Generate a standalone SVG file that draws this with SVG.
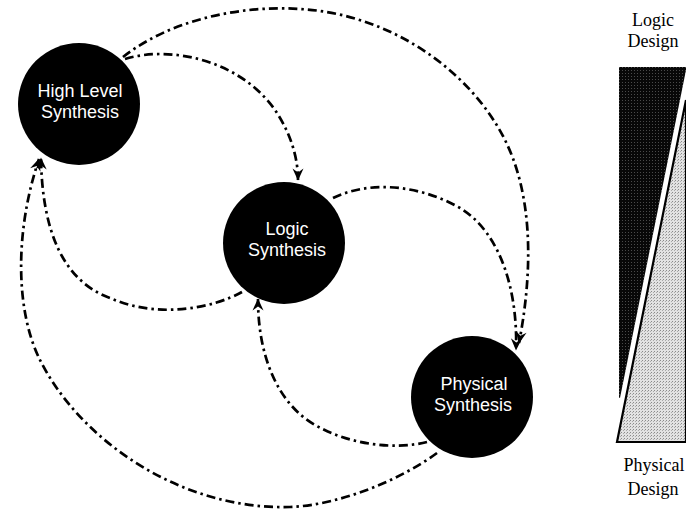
<svg xmlns="http://www.w3.org/2000/svg" width="686" height="512" viewBox="0 0 686 512">
  <style>
    .node { fill: #000; }
    .label { fill: #fff; font-family: "Liberation Sans", Arial, sans-serif; font-size: 18px; text-anchor: middle; }
    .flow { fill: none; stroke: #000; stroke-width: 2.7; stroke-dasharray: 9 4 2.5 4; }
    .side { fill: #000; font-family: "Liberation Serif", "Times New Roman", serif; font-size: 18px; text-anchor: middle; }
  </style>
  <defs>
    <marker id="arrow" markerUnits="userSpaceOnUse" viewBox="0 0 12 12" markerWidth="13" markerHeight="12" refX="11.5" refY="6" orient="auto">
      <path d="M0,0.5 L12,6 L0,11.5 L4,6 Z" fill="#000"/>
    </marker>
    <!-- stippled fills for the design-share bar -->
    <pattern id="darkStipple" width="3" height="3" patternUnits="userSpaceOnUse">
      <rect width="3" height="3" fill="#080808"/>
      <rect x="1" y="1" width="1" height="1" fill="#4a4a4a"/>
    </pattern>
    <pattern id="lightStipple" width="3" height="3" patternUnits="userSpaceOnUse">
      <rect width="3" height="3" fill="#e2e2e2"/>
      <rect x="0" y="0" width="1" height="1" fill="#8a8a8a"/>
      <rect x="2" y="1" width="1" height="1" fill="#aaaaaa"/>
    </pattern>
  </defs>

  <rect width="686" height="512" fill="#fff"/>

  <!-- connectors -->
  <g id="connectors">
    <!-- High Level -> Physical (outer) -->
    <path class="flow" d="M123,57 C170,20 240,5 300,9 C390,14 470,70 505,140 C530,190 535,260 519,343" marker-end="url(#arrow)"/>
    <!-- High Level -> Logic -->
    <path class="flow" d="M125,59 C170,45 240,60 275,110 C292,135 298,160 298,180" marker-end="url(#arrow)"/>
    <!-- Logic -> Physical -->
    <path class="flow" d="M333,198 C370,180 420,185 460,208 C500,232 518,290 516,350" marker-end="url(#arrow)"/>
    <!-- Logic -> High Level -->
    <path class="flow" d="M242,292 C215,307 160,320 110,298 C60,280 42,225 41,158" marker-end="url(#arrow)"/>
    <!-- Physical -> Logic -->
    <path class="flow" d="M427,442 C395,450 350,445 315,425 C280,405 258,360 258,299" marker-end="url(#arrow)"/>
    <!-- Physical -> High Level (outer) -->
    <path class="flow" d="M437,453 C400,480 340,505 290,507 C180,510 80,440 40,360 C15,310 15,230 39,159" marker-end="url(#arrow)"/>
  </g>

  <!-- nodes -->
  <g id="high-level-synthesis">
    <circle class="node" cx="79" cy="104" r="61"/>
    <text class="label" x="80" y="97">High Level</text>
    <text class="label" x="80" y="118">Synthesis</text>
  </g>
  <g id="logic-synthesis">
    <circle class="node" cx="284" cy="243" r="61"/>
    <text class="label" x="287" y="235">Logic</text>
    <text class="label" x="287" y="256">Synthesis</text>
  </g>
  <g id="physical-synthesis">
    <circle class="node" cx="472" cy="397" r="61"/>
    <text class="label" x="474" y="390">Physical</text>
    <text class="label" x="473" y="411">Synthesis</text>
  </g>

  <!-- design-share bar -->
  <g id="design-bar">
    <polygon points="619,67 686,67 686,70 620,398 619,398" fill="url(#darkStipple)"/>
    <polygon points="686,100 686,442 617,442" fill="url(#lightStipple)" stroke="#000" stroke-width="2.2" stroke-linejoin="miter"/>
    <text class="side" x="653" y="26">Logic</text>
    <text class="side" x="653" y="47">Design</text>
    <text class="side" x="654" y="471">Physical</text>
    <text class="side" x="653" y="495">Design</text>
  </g>
</svg>
